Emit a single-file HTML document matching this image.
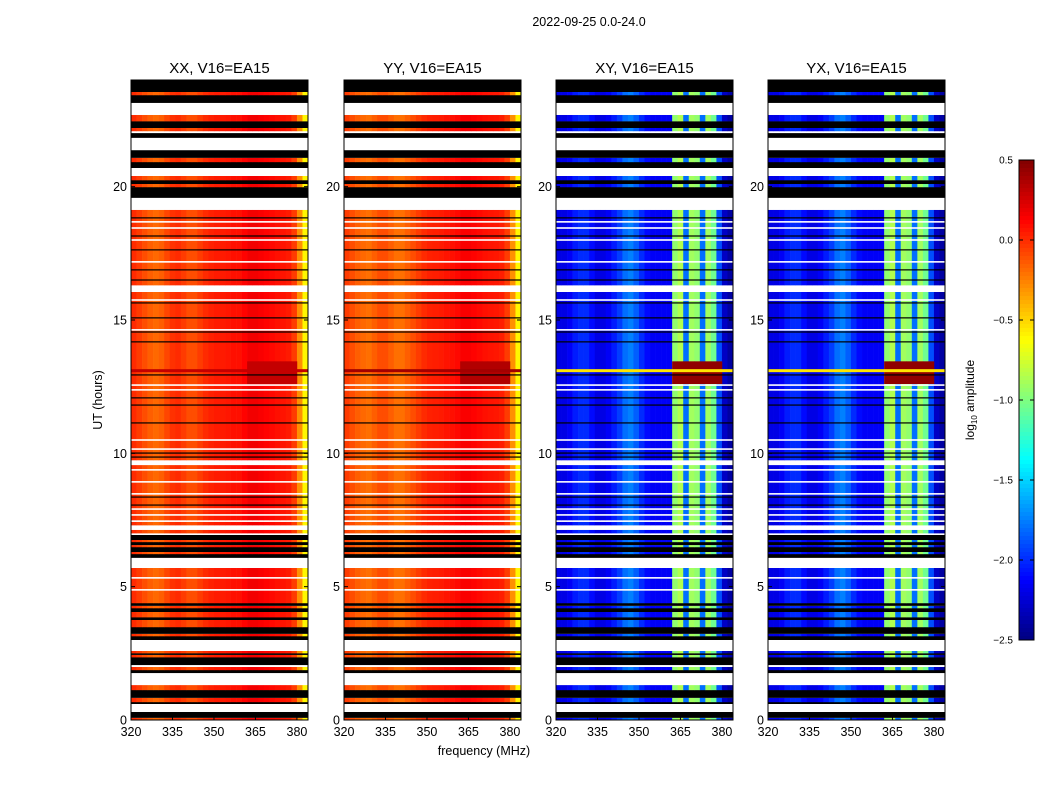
<!DOCTYPE html>
<html><head><meta charset="utf-8">
<style>
html,body{margin:0;padding:0;background:#fff;}
svg{display:block;font-family:"Liberation Sans",sans-serif;}
</style></head>
<body>
<svg id="fig" width="1050" height="800" viewBox="0 0 1050 800">
<rect width="1050" height="800" fill="#fff"/>
<text x="589" y="26" font-size="12.5" text-anchor="middle">2022-09-25 0.0-24.0</text>
<text x="484" y="755" font-size="12.5" text-anchor="middle">frequency (MHz)</text>
<text transform="translate(102,400) rotate(-90)" font-size="12.5" text-anchor="middle">UT (hours)</text>
<g id="panels"></g>
<g id="cbar"></g>
</svg>
<script>
// ---- data ----
const polTitles = ["XX, V16=EA15","YY, V16=EA15","XY, V16=EA15","YX, V16=EA15"];
const chanFreqs = [321,323,325,327,329,331,333,335,337,339,341,343,345,347,349,351,353,355,357,359,361,363,365,367,369,371,373,375,377,379,381,383];
const profXX = [0,-0.05,-0.1,-0.15,-0.18,-0.15,-0.08,-0.02,0,-0.05,-0.1,-0.1,-0.05,0,0.03,0.05,0.05,0.06,0.08,0.08,0.12,0.16,0.16,0.14,0.12,0.1,0.08,0.07,0.05,-0.05,-0.3,-0.6];
const profYY = [-0.05,-0.1,-0.15,-0.18,-0.2,-0.15,-0.1,-0.1,-0.15,-0.2,-0.2,-0.15,-0.1,-0.05,0,0.03,0.04,0.05,0.07,0.08,0.1,0.14,0.14,0.12,0.1,0.08,0.07,0.06,0.04,-0.05,-0.3,-0.6];
const profXY = [-2.2,-2.2,-2.15,-2.05,-2.0,-2.0,-2.1,-2.2,-2.2,-2.15,-2.05,-1.95,-1.8,-1.75,-1.85,-2.0,-2.1,-2.15,-2.15,-2.15,-2.15,-0.95,-0.85,-1.8,-0.9,-0.95,-1.8,-0.9,-1.05,-1.9,-2.3,-2.4];
const profYX = [-2.2,-2.2,-2.15,-2.05,-2.0,-2.0,-2.1,-2.2,-2.2,-2.15,-2.05,-1.95,-1.8,-1.75,-1.85,-2.0,-2.1,-2.15,-2.15,-2.15,-2.15,-0.95,-0.85,-1.8,-0.9,-0.95,-1.8,-0.9,-1.05,-1.9,-2.3,-2.4];
const profiles = [profXX, profYY, profXY, profYX];
// time segments (hours): start, end, type (d=data, k=black/zero, w=flagged)
const segStart = [0,0.08,0.3,0.6,0.68,0.83,1.13,1.31,1.76,1.88,1.99,2.06,2.25,2.36,2.44,2.51,2.59,3.0,3.15,3.23,3.49,3.75,3.86,4.05,4.2,4.28,4.39,5.7,6.08,6.23,6.3,6.49,6.56,6.68,6.75,6.94,7.01,7.13,7.31,7.43,7.5,9.56,9.75,16.05,16.31,19.13,19.58,19.99,20.1,20.25,20.4,20.7,20.93,21.08,21.37,21.83,22.01,22.09,22.2,22.46,22.69,23.14,23.44,23.55];
const segEnd   = [0.08,0.3,0.6,0.68,0.83,1.13,1.31,1.76,1.88,1.99,2.06,2.25,2.36,2.44,2.51,2.59,3.0,3.15,3.23,3.49,3.75,3.86,4.05,4.2,4.28,4.39,5.7,6.08,6.23,6.3,6.49,6.56,6.68,6.75,6.94,7.01,7.13,7.31,7.43,7.5,9.56,9.75,16.05,16.31,19.13,19.58,19.99,20.1,20.25,20.4,20.7,20.93,21.08,21.37,21.83,22.01,22.09,22.2,22.46,22.69,23.14,23.44,23.55,24.0];
const segType  = ["d","k","w","k","d","k","d","w","k","d","w","k","k","d","k","d","w","k","d","k","d","k","d","k","d","k","d","w","k","d","k","d","k","d","k","w","d","w","d","w","d","w","d","w","d","w","k","d","k","d","w","k","d","k","w","k","w","d","k","d","w","k","d","k"];
const whiteLines = [18.68,18.45,18.0,17.18,15.75,14.63,12.56,12.38,10.5,10.16,9.38,8.93,8.48,7.91,7.69,5.33,4.88];
const blackLines = [18.83,18.15,17.63,16.88,16.5,15.64,15.08,14.55,14.18,12.94,12.08,11.81,11.14,10.01,9.86,8.36,8.06];
// RFI event
const eventStart = 12.6, eventEnd = 13.45, eventLo = 362, eventHi = 380;
const eventLevel = [0.3,0.35,0.45,0.45];
const lineHour = 13.1;
const lineLevel = [0.3,0.4,-0.55,-0.55];
const xTicks = [320,335,350,365,380];
const yTicks = [0,5,10,15,20];
const cbTicks = [0.5,0.0,-0.5,-1.0,-1.5,-2.0,-2.5];
const cbTickLabels = ["0.5","0.0","\u22120.5","\u22121.0","\u22121.5","\u22122.0","\u22122.5"];
// ---- layout ----
const NS="http://www.w3.org/2000/svg";
const panelLeft=[131,344,556,768], pW=177, pTop=80, pH=640;
const fMin=320, fMax=384, tMin=0, tMax=24, vmin=-2.5, vmax=0.5;
function jet(v){let t=(v-vmin)/(vmax-vmin);t=Math.max(0,Math.min(1,t));
 const c=x=>Math.round(255*Math.max(0,Math.min(1,x)));
 return `rgb(${c(1.5-Math.abs(4*t-3))},${c(1.5-Math.abs(4*t-2))},${c(1.5-Math.abs(4*t-1))})`;}
function mk(tag,attrs,parent){const e=document.createElementNS(NS,tag);for(const k in attrs)e.setAttribute(k,attrs[k]);parent.appendChild(e);return e;}
const root=document.getElementById('panels');
for(let p=0;p<4;p++){
 const L=panelLeft[p];
 const xs=f=>L+(f-fMin)/(fMax-fMin)*pW;
 const ys=h=>pTop+pH-(h-tMin)/(tMax-tMin)*pH;
 const g=mk('g',{},root);
 
 
 const prof=profiles[p];
 for(let s=0;s<segStart.length;s++){
  const y0=ys(segEnd[s]), y1=ys(segStart[s]);
  if(segType[s]!=='d'){
   const r=mk('rect',{x:L,y:y0,width:pW,height:y1-y0,fill:segType[s]==='k'?'#000':'#fff'},g);
   
   
   continue;
  }
  for(let c=0;c<chanFreqs.length;c++){
   const xa=xs(chanFreqs[c]-1), xb=xs(chanFreqs[c]+1);
   const r=mk('rect',{x:xa,y:y0,width:xb-xa+0.3,height:y1-y0+0.3,fill:jet(prof[c])},g);
   
   
  }
 }
 for(let c=0;c<chanFreqs.length;c++){
  if(chanFreqs[c]<eventLo||chanFreqs[c]>eventHi) continue;
  const xa=xs(chanFreqs[c]-1), xb=xs(chanFreqs[c]+1);
  const r=mk('rect',{x:xa,y:ys(eventEnd),width:xb-xa+0.3,height:ys(eventStart)-ys(eventEnd),fill:jet(eventLevel[p])},g);
  
  
 }
 const rl=mk('rect',{x:L,y:ys(lineHour)-1.5,width:pW,height:3,fill:jet(lineLevel[p])},g);
 
 
 whiteLines.forEach(h=>{const r=mk('rect',{x:L,y:ys(h)-0.8,width:pW,height:1.6,fill:'#fff'},g);
  
  });
 blackLines.forEach(h=>{const r=mk('rect',{x:L,y:ys(h)-0.6,width:pW,height:1.2,fill:'#000'},g);
  
  });
 const fr=mk('rect',{x:L,y:pTop,width:pW,height:pH,fill:'none',stroke:'#000','stroke-width':1},g);
 
 
 const tt=mk('text',{x:L+pW/2,y:73,'font-size':15,'text-anchor':'middle'},g);
 tt.textContent=polTitles[p];
 
 
 xTicks.forEach(f=>{
  mk('line',{x1:xs(f),x2:xs(f),y1:pTop+pH,y2:pTop+pH-4,stroke:'#000'},g);
  mk('line',{x1:xs(f),x2:xs(f),y1:pTop,y2:pTop+4,stroke:'#000'},g);
  const t=mk('text',{x:xs(f),y:736,'font-size':12.5,'text-anchor':'middle'},g);
  t.textContent=f;
  
  
 });
 yTicks.forEach(h=>{
  mk('line',{x1:L,x2:L+4,y1:ys(h),y2:ys(h),stroke:'#000'},g);
  mk('line',{x1:L+pW,x2:L+pW-4,y1:ys(h),y2:ys(h),stroke:'#000'},g);
  const t=mk('text',{x:L-4,y:ys(h)+4.5,'font-size':12.5,'text-anchor':'end'},g);
  t.textContent=h;
  
  
 });
}
// colorbar
const cb=document.getElementById('cbar');
const cbX=1019,cbW=15,cbTop=160,cbH=480;
const cys=v=>cbTop+(vmax-v)/(vmax-vmin)*cbH;
for(let i=0;i<120;i++){
 const v=vmax-(i+0.5)*(vmax-vmin)/120;
 const r=mk('rect',{x:cbX,y:cbTop+i*cbH/120,width:cbW,height:cbH/120+0.4,fill:jet(v)},cb);
 
 
}
const cf=mk('rect',{x:cbX,y:cbTop,width:cbW,height:cbH,fill:'none',stroke:'#000'},cb);


cbTicks.forEach((v,i)=>{
 mk('line',{x1:cbX+cbW-4,x2:cbX+cbW,y1:cys(v),y2:cys(v),stroke:'#000'},cb);
 mk('line',{x1:cbX,x2:cbX+4,y1:cys(v),y2:cys(v),stroke:'#000'},cb);
 const t=mk('text',{x:cbX-6,y:cys(v)+3.5,'font-size':10,'text-anchor':'end'},cb);
 t.textContent=cbTickLabels[i];
 
 
});
const cl=mk('text',{transform:'translate(974,400) rotate(-90)','font-size':12,'text-anchor':'middle'},cb);
cl.innerHTML='log<tspan font-size="8" dy="3">10</tspan><tspan dy="-3"> amplitude</tspan>';


</script>
</body></html>
